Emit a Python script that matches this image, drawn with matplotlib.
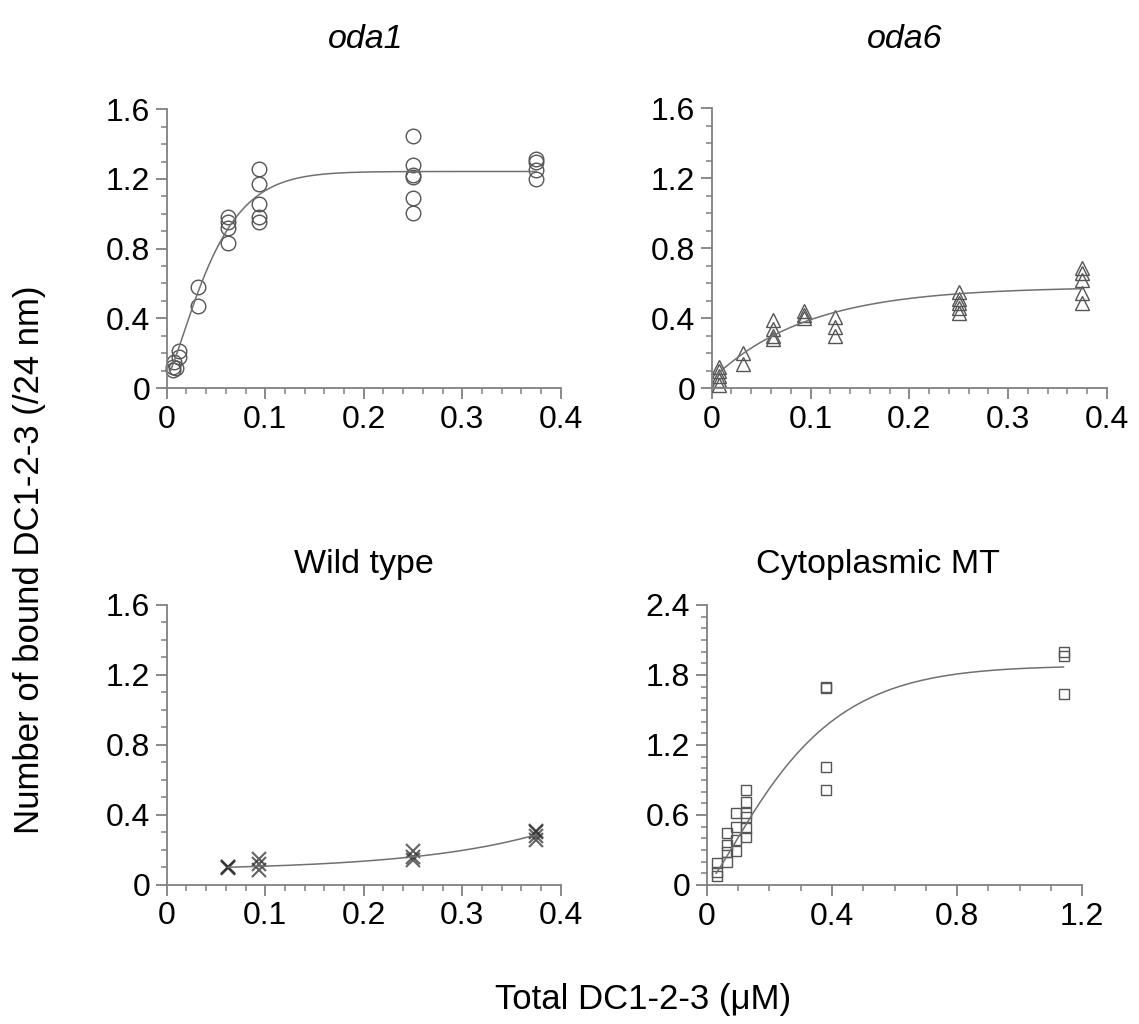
import numpy as np
import matplotlib
matplotlib.use("Agg")
import matplotlib.pyplot as plt
from matplotlib.ticker import MultipleLocator

plt.rcParams['font.family'] = ['Liberation Sans', 'DejaVu Sans']

# ---------------- data ----------------
oda1_x = [0.0068, 0.0068, 0.0078, 0.0095, 0.0129, 0.0129,
          0.0313, 0.0313,
          0.0625, 0.0625, 0.0625, 0.0625,
          0.0938, 0.0938, 0.0938, 0.0938, 0.0938,
          0.25, 0.25, 0.25, 0.25, 0.25, 0.25,
          0.375, 0.375, 0.375, 0.375]
oda1_y = [0.105, 0.12, 0.15, 0.115, 0.21, 0.18,
          0.577, 0.472,
          0.979, 0.952, 0.918, 0.832,
          1.258, 1.174, 1.055, 0.979, 0.952,
          1.444, 1.281, 1.224, 1.214, 1.09, 1.004,
          1.315, 1.296, 1.252, 1.199]
oda1_fit = dict(c=0.06, A=1.183, k=0.0514, n=1.3, xmin=0.004, xmax=0.375)

oda6_x = [0.0078] * 5 + [0.0313] * 2 + [0.0625] * 4 + [0.0938] * 3 + \
         [0.125] * 3 + [0.25] * 5 + [0.375] * 5
oda6_y = [0.02, 0.05, 0.07, 0.10, 0.12,
          0.20, 0.14,
          0.39, 0.34, 0.30, 0.28,
          0.44, 0.42, 0.40,
          0.41, 0.35, 0.30,
          0.55, 0.51, 0.49, 0.46, 0.43,
          0.686, 0.657, 0.62, 0.543, 0.486]
oda6_fit = dict(c=0.05, A=0.53, k=0.0965, n=1.0, xmin=0.006, xmax=0.375)

wt_x = [0.0625] * 3 + [0.0938] * 3 + [0.25] * 3 + [0.375] * 4
wt_y = [0.10, 0.10, 0.095,
        0.145, 0.12, 0.084,
        0.19, 0.16, 0.14,
        0.31, 0.30, 0.28, 0.256]
wt_fit = dict(a=0.0815, b=0.0114, k=0.13, xmin=0.0625, xmax=0.375)

cyt_x = [0.0317] * 3 + [0.0633] * 4 + [0.095] * 4 + [0.127] * 6 + \
        [0.38] * 4 + [1.14] * 3
cyt_y = [0.186, 0.11, 0.077,
         0.443, 0.343, 0.286, 0.20,
         0.614, 0.50, 0.386, 0.294,
         0.814, 0.714, 0.614, 0.585, 0.486, 0.409,
         1.70, 1.69, 1.009, 0.814,
         1.994, 1.963, 1.637]
cyt_fit = dict(c=0.0, A=1.88, k=0.31, n=1.25, xmin=0.03, xmax=1.14)

titles = ["oda1", "oda6", "Wild type", "Cytoplasmic MT"]
ylabel = "Number of bound DC1-2-3 (/24 nm)"
xlabel = "Total DC1-2-3 (\u03bcM)"


def sat_curve(p):
    x = np.linspace(p['xmin'], p['xmax'], 300)
    y = p['c'] + p['A'] * (1 - np.exp(-(x / p['k']) ** p['n']))
    return x, y


def exp_curve(p):
    x = np.linspace(p['xmin'], p['xmax'], 300)
    y = p['a'] + p['b'] * np.exp(x / p['k'])
    return x, y


# ---------------- figure ----------------
W, H = 1139, 1024
fig = plt.figure(figsize=(W / 100, H / 100), dpi=100)


def ax_px(x0, x1, y0, y1):
    # x0,x1 pixel columns; y0 = pixel row of bottom, y1 = pixel row of top
    return fig.add_axes([x0 / W, 1 - y0 / H, (x1 - x0) / W, (y0 - y1) / H])


axes = [ax_px(166.7, 560.7, 388.0, 109.3),
        ax_px(711.7, 1107.0, 388.3, 108.3),
        ax_px(166.7, 560.7, 884.7, 605.0),
        ax_px(706.7, 1082.3, 885.0, 605.0)]

spine_col = '#808080'
mk_col = '#555555'
line_col = '#707070'

for ax in axes:
    for s in ['top', 'right']:
        ax.spines[s].set_visible(False)
    for s in ['left', 'bottom']:
        ax.spines[s].set_color(spine_col)
        ax.spines[s].set_linewidth(1.3)
    ax.tick_params(which='major', direction='out', length=8, width=1.3,
                   color=spine_col, labelsize=23, pad=4, labelcolor='black')
    ax.tick_params(which='minor', direction='out', length=4.5, width=1.1,
                   color=spine_col)
    ax.patch.set_alpha(0)

# oda1
ax = axes[0]
ax.set_xlim(0, 0.4); ax.set_ylim(0, 1.6)
ax.xaxis.set_major_locator(MultipleLocator(0.1)); ax.xaxis.set_minor_locator(MultipleLocator(0.02))
ax.yaxis.set_major_locator(MultipleLocator(0.4)); ax.yaxis.set_minor_locator(MultipleLocator(0.1))
ax.plot(oda1_x, oda1_y, 'o', ms=10.5, mfc='none', mec=mk_col, mew=1.0, clip_on=False)
cx, cy = sat_curve(oda1_fit)
ax.plot(cx, cy, color=line_col, lw=1.1)

# oda6
ax = axes[1]
ax.set_xlim(0, 0.4); ax.set_ylim(0, 1.6)
ax.xaxis.set_major_locator(MultipleLocator(0.1)); ax.xaxis.set_minor_locator(MultipleLocator(0.02))
ax.yaxis.set_major_locator(MultipleLocator(0.4)); ax.yaxis.set_minor_locator(MultipleLocator(0.1))
ax.plot(oda6_x, oda6_y, '^', ms=10, mfc='none', mec=mk_col, mew=1.0, clip_on=False)
cx, cy = sat_curve(oda6_fit)
ax.plot(cx, cy, color=line_col, lw=1.1)

# wild type
ax = axes[2]
ax.set_xlim(0, 0.4); ax.set_ylim(0, 1.6)
ax.xaxis.set_major_locator(MultipleLocator(0.1)); ax.xaxis.set_minor_locator(MultipleLocator(0.02))
ax.yaxis.set_major_locator(MultipleLocator(0.4)); ax.yaxis.set_minor_locator(MultipleLocator(0.1))
ax.plot(wt_x, wt_y, 'x', ms=9.5, color='#303030', mew=1.5, alpha=0.75, clip_on=False)
cx, cy = exp_curve(wt_fit)
ax.plot(cx, cy, color=line_col, lw=1.1)

# cytoplasmic MT
ax = axes[3]
ax.set_xlim(0, 1.2); ax.set_ylim(0, 2.4)
ax.xaxis.set_major_locator(MultipleLocator(0.4)); ax.xaxis.set_minor_locator(MultipleLocator(0.1))
ax.yaxis.set_major_locator(MultipleLocator(0.6)); ax.yaxis.set_minor_locator(MultipleLocator(0.1))
ax.plot(cyt_x, cyt_y, 's', ms=7.5, mfc='none', mec=mk_col, mew=1.0, clip_on=False)
cx, cy = sat_curve(cyt_fit)
ax.plot(cx, cy, color=line_col, lw=1.1)


def fmt(v, pos=None):
    if abs(v) < 1e-9:
        return "0"
    return ("%.1f" % v)


for ax in axes:
    ax.xaxis.set_major_formatter(plt.FuncFormatter(fmt))
    ax.yaxis.set_major_formatter(plt.FuncFormatter(fmt))

# titles
title_pos = [(366.0, 40), (905.0, 40), (363.7, 565), (878.0, 565)]
for t, (px, py) in zip(titles, title_pos):
    style = 'italic' if t.startswith('oda') else 'normal'
    fig.text(px / W, 1 - py / H, t, ha='center', va='center', fontsize=24.5,
             style=style)

fig.text(30 / W, 1 - 560 / H, ylabel, rotation=90, ha='center', va='center',
         fontsize=25)
fig.text(643 / W, 1 - 1000 / H, xlabel, ha='center', va='center', fontsize=25)

fig.savefig("out.png", dpi=100)
